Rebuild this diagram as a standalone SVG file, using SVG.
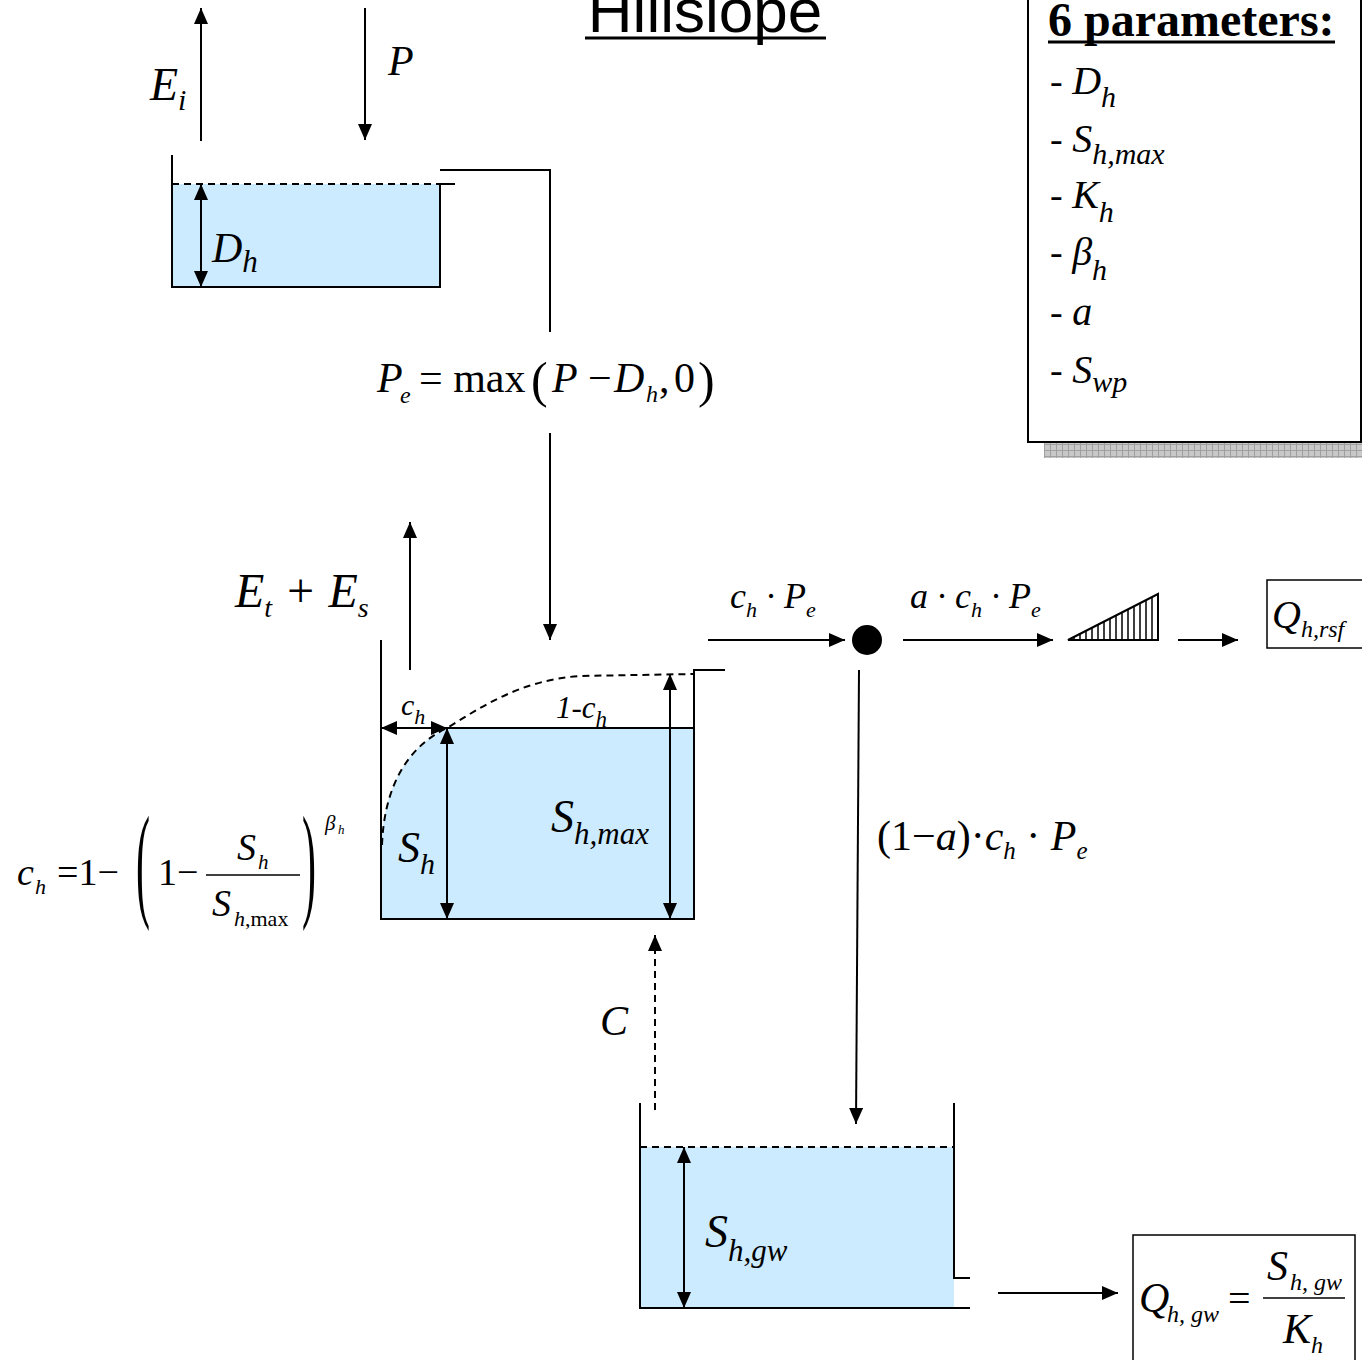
<svg xmlns="http://www.w3.org/2000/svg" width="1362" height="1360" viewBox="0 0 1362 1360">
<style>
.it{font-family:"Liberation Serif",serif;font-style:italic;fill:#000}
.rm{font-family:"Liberation Serif",serif;fill:#000}
.ln{stroke:#000;stroke-width:2;fill:none}
.ds{stroke:#000;stroke-width:2;fill:none;stroke-dasharray:7,5}
.ar{marker-end:url(#ah)}
.dbl{marker-start:url(#ah);marker-end:url(#ah)}
.water{fill:#CCEBFF;stroke:none}
</style>
<defs>
<marker id="ah" viewBox="0 0 16 14" refX="16" refY="7" markerWidth="16" markerHeight="14" orient="auto-start-reverse" markerUnits="userSpaceOnUse"><path d="M0,0 L16,7 L0,14 z" fill="#000"/></marker>
<pattern id="grid" width="6" height="6" patternUnits="userSpaceOnUse"><rect width="6" height="6" fill="#c8c8c8"/><path d="M0,0.5 H6 M0.5,0 V6" stroke="#a0a0a0" stroke-width="1"/></pattern>
</defs>

<g id="title">
<text x="705" y="32" font-family="Liberation Sans,Arial,sans-serif" font-size="62" text-anchor="middle">Hillslope</text>
<line x1="585" y1="38" x2="826" y2="38" stroke="#000" stroke-width="3"/>
</g>

<g id="params">
<rect x="1044" y="443" width="318" height="15" fill="url(#grid)"/>
<rect x="1028" y="-10" width="333" height="452" fill="#fff" stroke="#000" stroke-width="2"/>
<text x="1048" y="36" class="rm" font-size="48" font-weight="bold">6 parameters:</text>
<line x1="1048" y1="42" x2="1335" y2="42" stroke="#000" stroke-width="3"/>
<text x="1050" y="94" class="rm" font-size="38">- <tspan class="it" font-size="40">D</tspan><tspan class="it" font-size="30" dy="13">h</tspan></text>
<text x="1050" y="152" class="rm" font-size="38">- <tspan class="it" font-size="40">S</tspan><tspan class="it" font-size="30" dy="12">h,max</tspan></text>
<text x="1050" y="208" class="rm" font-size="38">- <tspan class="it" font-size="40">K</tspan><tspan class="it" font-size="30" dy="14">h</tspan></text>
<text x="1050" y="265" class="rm" font-size="38">- <tspan class="it" font-size="40">β</tspan><tspan class="it" font-size="30" dy="15">h</tspan></text>
<text x="1050" y="325" class="rm" font-size="38">- <tspan class="it" font-size="40">a</tspan></text>
<text x="1050" y="383" class="rm" font-size="38">- <tspan class="it" font-size="40">S</tspan><tspan class="it" font-size="30" dy="9">wp</tspan></text>
</g>

<g id="interception">
<rect x="172" y="184" width="268" height="103" class="water"/>
<path d="M172,155 V287 H440 V184" class="ln"/>
<line x1="172" y1="184" x2="440" y2="184" class="ds"/>
<line x1="440" y1="184" x2="455" y2="184" class="ln"/>
<text x="212" y="262" class="it" font-size="42">D<tspan font-size="31" dy="10">h</tspan></text>
</g>

<g id="unsaturated">
<path d="M381,919 L381,845 C384,790 405,748 447,728 L694,728 L694,919 Z" class="water"/>
<path d="M381,640 V919 H695" class="ln"/>
<path d="M725,670 H694 V919" class="ln"/>
<line x1="447" y1="728" x2="694" y2="728" class="ln"/>
<path d="M382,845 C384,790 405,748 447,728 C480,708 520,680 580,676 L694,674" class="ds"/>
<text x="398" y="862" class="it" font-size="44">S<tspan font-size="30" dy="12">h</tspan></text>
<text x="551" y="832" class="it" font-size="46">S<tspan font-size="31" dy="12">h,max</tspan></text>
<text x="401" y="715" class="it" font-size="30">c<tspan font-size="22" dy="9">h</tspan></text>
<text x="556" y="718" class="it" font-size="31">1-c<tspan font-size="23" dy="9">h</tspan></text>
</g>

<g id="eq-ch">
<text x="17" y="885" class="it" font-size="38">c</text>
<text x="35" y="894" class="it" font-size="22">h</text>
<text x="57" y="885" class="rm" font-size="38">=1−</text>
<text transform="translate(136,904) scale(1,3)" class="rm" font-size="42">(</text>
<text x="158" y="885" class="rm" font-size="38">1−</text>
<line x1="206" y1="875" x2="300" y2="875" stroke="#000" stroke-width="1.5"/>
<text x="237" y="860" class="it" font-size="38">S</text>
<text x="258" y="869" class="it" font-size="21">h</text>
<text x="212" y="916" class="it" font-size="38">S</text>
<text x="234" y="926" class="rm" font-size="22"><tspan class="it">h</tspan>,max</text>
<text transform="translate(302,904) scale(1,3)" class="rm" font-size="42">)</text>
<text x="325" y="830" class="it" font-size="21">β</text>
<text x="338" y="834" class="it" font-size="13">h</text>
</g>

<g id="groundwater">
<rect x="640" y="1147" width="314" height="161" class="water"/>
<path d="M640,1103 V1308 H970" class="ln"/>
<path d="M954,1103 V1278 H970" class="ln"/>
<line x1="640" y1="1147" x2="954" y2="1147" class="ds"/>
<text x="705" y="1247" class="it" font-size="46">S<tspan font-size="31" dy="14">h,gw</tspan></text>
</g>

<g id="junction">
<circle cx="867" cy="640" r="15" fill="#000"/>
</g>

<g id="lag">
<polygon points="1068,640 1158,640 1158,594" fill="#fff" stroke="#000" stroke-width="2"/>
<path d="M1074,640 V637 M1080,640 V634 M1086,640 V631 M1092,640 V628 M1098,640 V625 M1104,640 V622 M1110,640 V619 M1116,640 V615 M1122,640 V612 M1128,640 V609 M1134,640 V606 M1140,640 V603 M1146,640 V600 M1152,640 V597" stroke="#000" stroke-width="1.5"/>
</g>

<g id="qrsf">
<rect x="1267" y="580" width="100" height="68" fill="#fff" stroke="#000" stroke-width="1.5"/>
<text x="1272" y="628" class="it" font-size="40">Q<tspan font-size="24" dy="9">h,rsf</tspan></text>
</g>

<g id="qgw">
<rect x="1133" y="1235" width="222" height="140" fill="#fff" stroke="#000" stroke-width="1.5"/>
<text x="1139" y="1312" class="it" font-size="42">Q</text>
<text x="1167" y="1322" class="it" font-size="24">h<tspan class="rm">, </tspan>gw</text>
<text x="1228" y="1312" class="rm" font-size="40">=</text>
<line x1="1263" y1="1298" x2="1345" y2="1298" stroke="#000" stroke-width="1.5"/>
<text x="1267" y="1280" class="it" font-size="42">S</text>
<text x="1290" y="1290" class="it" font-size="24">h<tspan class="rm">, </tspan>gw</text>
<text x="1283" y="1343" class="it" font-size="42">K</text>
<text x="1311" y="1353" class="it" font-size="24">h</text>
</g>

<g id="labels">
<text x="150" y="100" class="it" font-size="46">E<tspan font-size="30" dy="10">i</tspan></text>
<text x="388" y="75" class="it" font-size="42">P</text>
<text x="377" y="392" class="it" font-size="42">P</text>
<text x="400" y="403" class="it" font-size="24">e</text>
<text x="419" y="392" class="rm" font-size="42">= max</text>
<text x="531" y="397" class="rm" font-size="50">(</text>
<text x="552" y="392" class="it" font-size="42">P</text>
<text x="588" y="392" class="rm" font-size="42">−</text>
<text x="614" y="392" class="it" font-size="42">D</text>
<text x="646" y="402" class="it" font-size="24">h</text>
<text x="659" y="392" class="rm" font-size="42">,</text>
<text x="674" y="392" class="rm" font-size="42">0</text>
<text x="698" y="397" class="rm" font-size="50">)</text>
<text x="235" y="607" class="it" font-size="48">E<tspan font-size="28" dy="10">t</tspan><tspan class="rm" font-size="48" dy="-10"> + </tspan>E<tspan font-size="28" dy="10">s</tspan></text>
<text x="730" y="608" class="it" font-size="36">c<tspan font-size="22" dy="9">h</tspan><tspan class="rm" font-size="36" dy="-9"> · </tspan>P<tspan font-size="22" dy="9">e</tspan></text>
<text x="910" y="608" class="it" font-size="36">a<tspan class="rm"> · </tspan>c<tspan font-size="22" dy="9">h</tspan><tspan class="rm" font-size="36" dy="-9"> · </tspan>P<tspan font-size="22" dy="9">e</tspan></text>
<text x="877" y="850" class="rm" font-size="42">(1−<tspan class="it">a</tspan>)·<tspan class="it">c</tspan><tspan class="it" font-size="25" dy="9">h</tspan><tspan dy="-9"> · </tspan><tspan class="it">P</tspan><tspan class="it" font-size="25" dy="9">e</tspan></text>
<text x="600" y="1035" class="it" font-size="42">C</text>
</g>

<g id="connectors">
<line x1="201" y1="141" x2="201" y2="8" class="ln ar"/>
<line x1="365" y1="8" x2="365" y2="140" class="ln ar"/>
<line x1="201" y1="184" x2="201" y2="287" class="ln dbl"/>
<path d="M440,170 H550 V332" class="ln"/>
<line x1="550" y1="433" x2="550" y2="640" class="ln ar"/>
<line x1="410" y1="670" x2="410" y2="522" class="ln ar"/>
<line x1="381" y1="728" x2="447" y2="728" stroke="#000" stroke-width="2" class="dbl"/>
<line x1="447" y1="728" x2="447" y2="919" class="ln dbl"/>
<line x1="670" y1="674" x2="670" y2="919" class="ln dbl"/>
<line x1="708" y1="640" x2="845" y2="640" class="ln ar"/>
<line x1="903" y1="640" x2="1053" y2="640" class="ln ar"/>
<line x1="1178" y1="640" x2="1238" y2="640" class="ln ar"/>
<line x1="859" y1="670" x2="856" y2="1124" class="ln ar"/>
<line x1="655" y1="1110" x2="655" y2="935" class="ds ar"/>
<line x1="684" y1="1147" x2="684" y2="1308" class="ln dbl"/>
<line x1="998" y1="1293" x2="1118" y2="1293" class="ln ar"/>
</g>
</svg>
